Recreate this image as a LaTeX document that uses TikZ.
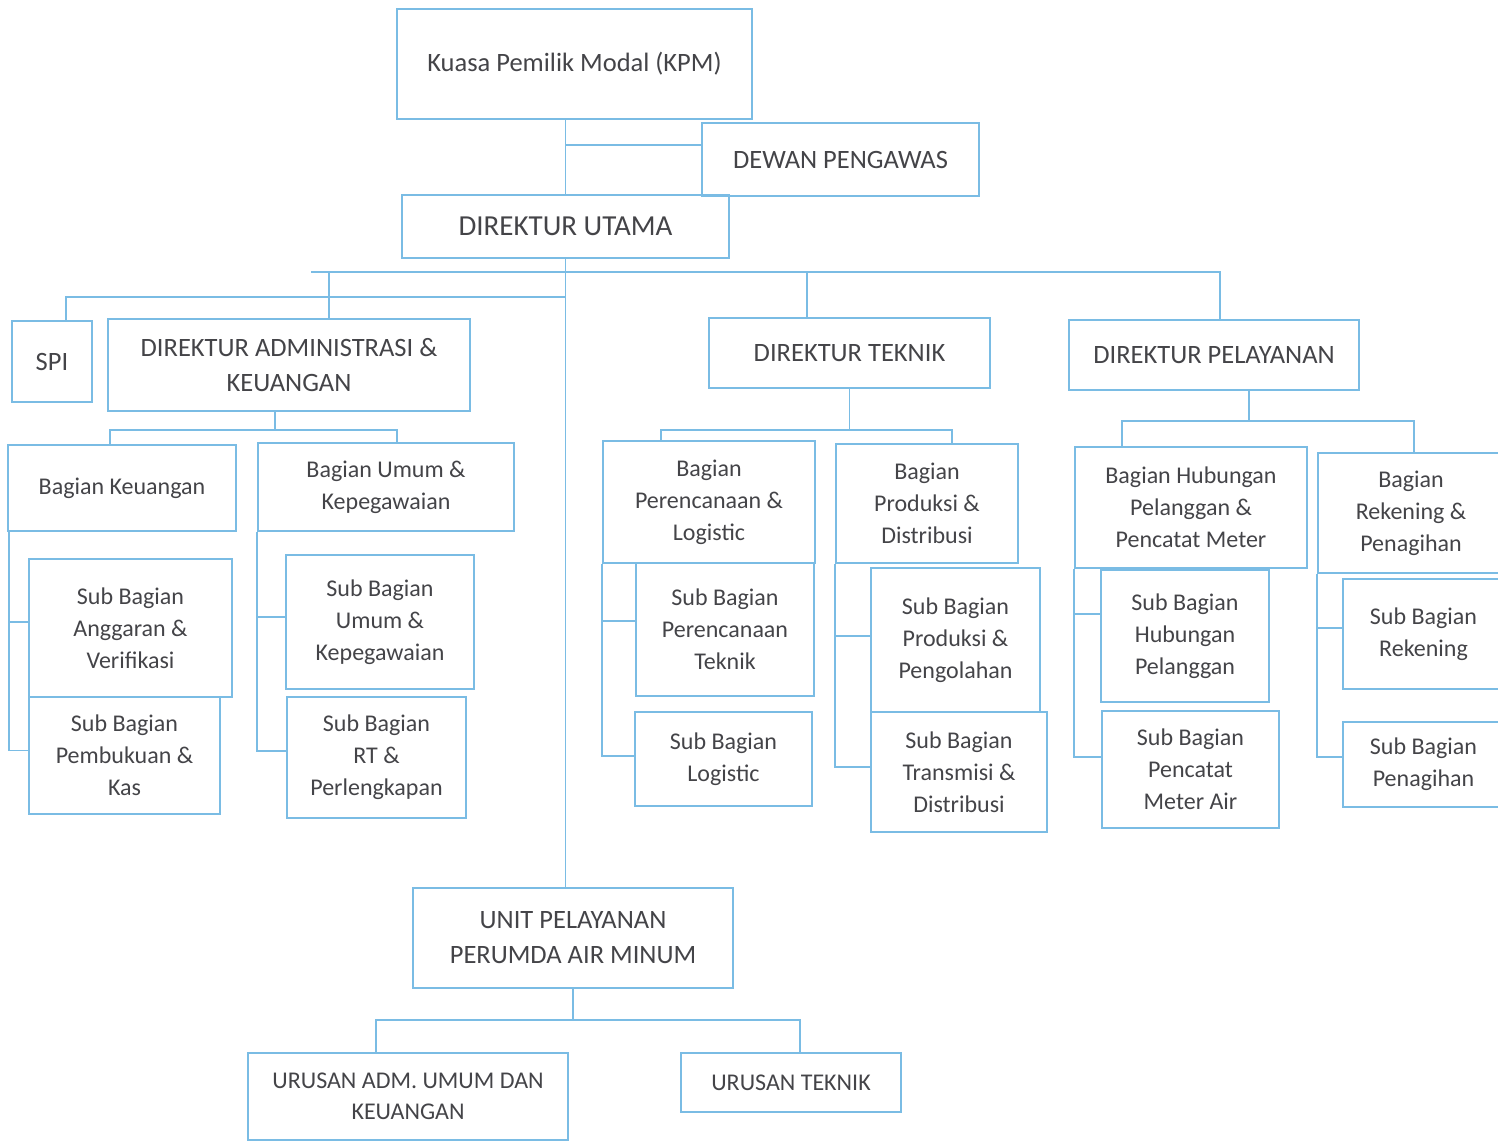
\documentclass[tikz,border=0pt]{standalone}
\usepackage{fontspec}
\setmainfont{Carlito}
\definecolor{chartblue}{RGB}{122,188,228}
\definecolor{inkgray}{RGB}{68,68,72}

\begin{document}
\begin{tikzpicture}[
  x=1pt, y=-1pt,
  head/.style={rectangle, draw=chartblue, line width=1.8pt, inner sep=0pt, align=center, text=inkgray, font=\fontsize{26.5}{35}\selectfont},
  part/.style={head, font=\fontsize{24}{32}\selectfont},
  link/.style={draw=chartblue, line width=1.3pt},
]
\useasboundingbox (0,0) rectangle (1498,1142);

% top level
\node[head, minimum width=355pt, minimum height=110pt] (kpm) at (574.5,64) {Kuasa Pemilik Modal (KPM)};
\node[head, minimum width=277pt, minimum height=73pt] (dewan) at (840.5,159.5) {DEWAN PENGAWAS};
\node[head, font=\fontsize{29}{35}\selectfont, minimum width=327pt, minimum height=63pt] (dirut) at (565.5,226.5) {DIREKTUR UTAMA};

% directors
\node[head, minimum width=80pt, minimum height=81pt] (spi) at (52,361.5) {SPI};
\node[head, minimum width=362pt, minimum height=92pt] (diradm) at (289,365) {DIREKTUR ADMINISTRASI \&\\KEUANGAN};
\node[head, minimum width=281pt, minimum height=70pt] (dirtek) at (849.5,353) {DIREKTUR TEKNIK};
\node[head, minimum width=290pt, minimum height=70pt] (dirpel) at (1214,355) {DIREKTUR PELAYANAN};

% bagian
\node[part, minimum width=228pt, minimum height=86pt] (bkeu) at (122,488) {Bagian Keuangan};
\node[part, minimum width=256pt, minimum height=88pt] (bumum) at (386,487) {Bagian Umum \&\\Kepegawaian};
\node[part, minimum width=212pt, minimum height=122pt] (bren) at (709,502) {Bagian\\Perencanaan \&\\Logistic};
\node[part, minimum width=182pt, minimum height=119pt] (bprod) at (927,503.5) {Bagian\\Produksi \&\\Distribusi};
\node[part, minimum width=232pt, minimum height=121pt] (bhub) at (1191,507.5) {Bagian Hubungan\\Pelanggan \&\\Pencatat Meter};
\node[part, minimum width=186pt, minimum height=120pt] (brek) at (1411,513) {Bagian\\Rekening \&\\Penagihan};

% sub bagian
\node[part, minimum width=203pt, minimum height=138pt] (sanggar) at (130.5,628) {Sub Bagian\\Anggaran \&\\Verifikasi};
\node[part, minimum width=191pt, minimum height=117pt] (sbuku) at (124.5,755.5) {Sub Bagian\\Pembukuan \&\\Kas};
\node[part, minimum width=188pt, minimum height=134pt] (sumum) at (380,622) {Sub Bagian\\Umum \&\\Kepegawaian};
\node[part, minimum width=179pt, minimum height=121pt] (srt) at (376.5,757.5) {Sub Bagian\\RT \&\\Perlengkapan};
\node[part, minimum width=178pt, minimum height=133pt] (sren) at (725,629.5) {Sub Bagian\\Perencanaan\\Teknik};
\node[part, minimum width=177pt, minimum height=94pt] (slog) at (723.5,759) {Sub Bagian\\Logistic};
\node[part, minimum width=169pt, minimum height=144pt] (sprod) at (955.5,640) {Sub Bagian\\Produksi \&\\Pengolahan};
\node[part, minimum width=176pt, minimum height=120pt] (strans) at (959,772) {Sub Bagian\\Transmisi \&\\Distribusi};
\node[part, minimum width=168pt, minimum height=132pt] (shub) at (1185,636) {Sub Bagian\\Hubungan\\Pelanggan};
\node[part, minimum width=177pt, minimum height=117pt] (smeter) at (1190.5,769.5) {Sub Bagian\\Pencatat\\Meter Air};
\node[part, minimum width=161pt, minimum height=110pt] (srek) at (1423.5,634) {Sub Bagian\\Rekening};
\node[part, minimum width=161pt, minimum height=85pt] (stagih) at (1423.5,764.5) {Sub Bagian\\Penagihan};

% unit pelayanan
\node[head, minimum width=320pt, minimum height=100pt] (unit) at (573,938) {UNIT PELAYANAN\\PERUMDA AIR MINUM};
\node[part, font=\fontsize{24}{31}\selectfont, minimum width=320pt, minimum height=87pt] (urusadm) at (408,1096.5) {URUSAN ADM. UMUM DAN\\KEUANGAN};
\node[part, minimum width=220pt, minimum height=59pt] (urustek) at (791,1082.5) {URUSAN TEKNIK};

% top links
\draw[link] (kpm.south -| dirut.north) -- (dirut.north);
\coordinate (dewanJ) at (566,145);
\draw[link] (dewanJ) -- (dewanJ -| dewan.west);
\draw[link] (dirut.south) -- (dirut.south |- unit.north);

% director bus
\coordinate (busL) at (311,272);
\coordinate (busR) at (1220,272);
\coordinate (admTop) at (329,272);
\coordinate (tekTop) at (807,272);
\coordinate (spiL) at (66,297);
\draw[link] (busL) -- (busR) -- (busR |- dirpel.north);
\draw[link] (admTop) -- (admTop |- diradm.north);
\draw[link] (tekTop) -- (tekTop |- dirtek.north);
\draw[link] (spiL -| dirut.south) -- (spiL) -- (spiL |- spi.north);

% administrasi
\coordinate (admJ) at (275,430);
\coordinate (admL) at (110,430);
\coordinate (admR) at (397,430);
\draw[link] (admJ |- diradm.south) -- (admJ);
\draw[link] (admL |- bkeu.north) -- (admL) -- (admR) -- (admR |- bumum.north);
\draw[link] ([xshift=2pt]bkeu.south west) |- ([yshift=6pt]sanggar.west);
\draw[link] ([xshift=2pt]bkeu.south west) |- ([yshift=5pt]sbuku.west);
\draw[link] (bumum.south west) |- ([yshift=5pt]sumum.west);
\draw[link] (bumum.south west) |- ([yshift=6.5pt]srt.west);

% teknik
\coordinate (tekL) at (661,430);
\coordinate (tekR) at (952,430);
\draw[link] (dirtek.south) -- (dirtek.south |- tekL);
\draw[link] (tekL |- bren.north) -- (tekL) -- (tekR) -- (tekR |- bprod.north);
\draw[link] (bren.south west) |- ([yshift=8.5pt]sren.west);
\draw[link] (bren.south west) |- ([yshift=3pt]slog.west);
\draw[link] (bprod.south west) |- ([yshift=4pt]sprod.west);
\draw[link] (bprod.south west) |- ([yshift=5pt]strans.west);

% pelayanan
\coordinate (pelJ) at (1249,421);
\coordinate (pelL) at (1122,421);
\coordinate (pelR) at (1414,421);
\draw[link] (pelJ |- dirpel.south) -- (pelJ);
\draw[link] (pelL |- bhub.north) -- (pelL) -- (pelR) -- (pelR |- brek.north);
\draw[link] (bhub.south west) |- ([yshift=22pt]shub.west);
\draw[link] (bhub.south west) |- ([yshift=12.5pt]smeter.west);
\draw[link] (brek.south west) |- ([yshift=6pt]srek.west);
\draw[link] (brek.south west) |- ([yshift=7.5pt]stagih.west);

% unit
\coordinate (unitL) at (376,1020);
\coordinate (unitR) at (800,1020);
\draw[link] (unit.south) -- (unit.south |- unitL);
\draw[link] (unitL |- urusadm.north) -- (unitL) -- (unitR) -- (unitR |- urustek.north);
\end{tikzpicture}
\end{document}
